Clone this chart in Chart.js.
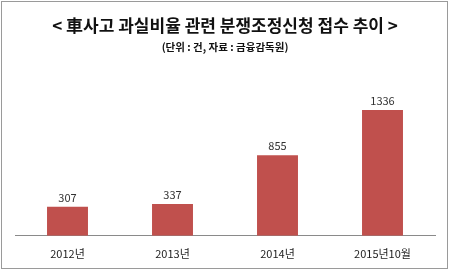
<!DOCTYPE html>
<html>
<head>
<meta charset="utf-8">
<script src="https://cdn.jsdelivr.net/npm/chart.js"></script>
<style>
  html, body { margin: 0; padding: 0; background: #fff; }
  #wrap { position: relative; width: 450px; height: 271px; }
  #frame { position: absolute; left: 1px; top: 1px; width: 445px; height: 266px; border: 1px solid #9a9a9a; pointer-events: none; }
</style>
</head>
<body>
<div id="wrap">
  <canvas id="grafik" width="450" height="271"></canvas>
  <div id="frame"></div>
</div>
<script>
// data dari gambar
const kategori = ["2012년", "2013년", "2014년", "2015년10월"];
const jumlahKasus = [307, 337, 855, 1336];
const judul = "< 車사고 과실비율 관련 분쟁조정신청 접수 추이 >";
const subJudul = "(단위 : 건, 자료 : 금융감독원)";

const fontKR = "'Noto Sans CJK KR', 'Noto Sans', sans-serif";

// label angka di atas batang
const labelNilai = {
  id: "labelNilai",
  afterDatasetsDraw(chart) {
    const ctx = chart.ctx;
    const meta = chart.getDatasetMeta(0);
    ctx.save();
    ctx.font = "11px " + fontKR;
    ctx.fillStyle = "#333";
    ctx.textAlign = "center";
    ctx.textBaseline = "bottom";
    meta.data.forEach((bar, i) => {
      ctx.fillText(jumlahKasus[i], bar.x, bar.y - 4);
    });
    ctx.restore();
  },
};

new Chart(document.getElementById("grafik"), {
  type: "bar",
  data: {
    labels: kategori,
    datasets: [
      {
        data: jumlahKasus,
        backgroundColor: "#c0504d",
        barPercentage: 0.39,
        categoryPercentage: 1,
      },
    ],
  },
  options: {
    responsive: false,
    animation: false,
    layout: { padding: { left: 15, right: 15, top: 0, bottom: 0 } },
    scales: {
      x: {
        grid: { display: false, drawTicks: false },
        border: { display: true, color: "#8a8a8a", width: 1 },
        ticks: { color: "#222", font: { size: 11, family: fontKR }, padding: 11 },
      },
      y: {
        display: false,
        min: 0,
        max: 1600,
      },
    },
    plugins: {
      legend: { display: false },
      tooltip: { enabled: false },
      title: {
        display: true,
        text: judul,
        color: "#111",
        font: { size: 17, weight: "bold", family: fontKR },
        padding: { top: 15, bottom: 3 },
      },
      subtitle: {
        display: true,
        text: subJudul,
        color: "#111",
        font: { size: 10.5, weight: "bold", family: fontKR },
        padding: { top: 2, bottom: 32 },
      },
    },
  },
  plugins: [labelNilai],
});
</script>
</body>
</html>
